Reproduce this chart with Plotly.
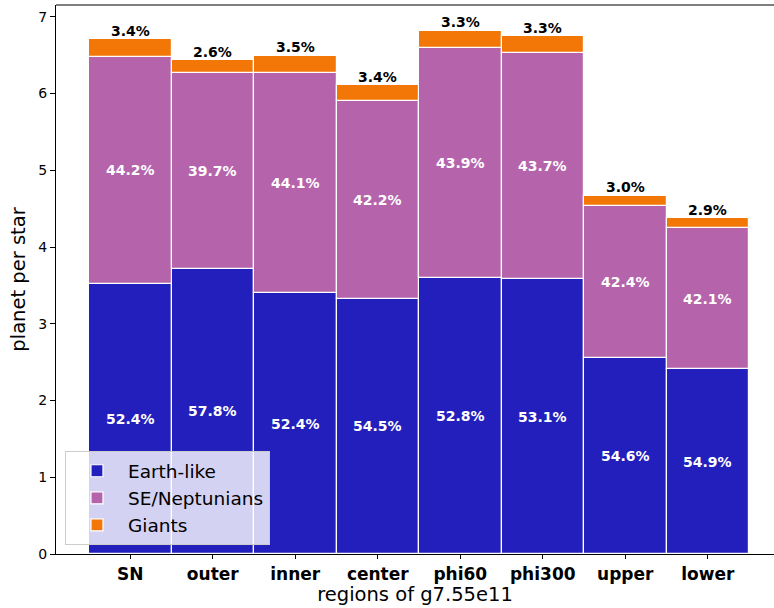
import plotly.graph_objects as go

# Planet occurrence per star across regions of g7.55e11
regions = ["SN", "outer", "inner", "center", "phi60", "phi300", "upper", "lower"]
total_per_star = [6.71, 6.43, 6.49, 6.10, 6.82, 6.74, 4.67, 4.38]
earth_pct = [52.4, 57.8, 52.4, 54.5, 52.8, 53.1, 54.6, 54.9]
neptune_pct = [44.2, 39.7, 44.1, 42.2, 43.9, 43.7, 42.4, 42.1]
giant_pct = [3.4, 2.6, 3.5, 3.4, 3.3, 3.3, 3.0, 2.9]

series_names = ["Earth-like", "SE/Neptunians", "Giants"]
series_colors = ["#231fbd", "#b564ac", "#f27706"]

FONT = "DejaVu Sans"

fig = go.Figure()
x_idx = list(range(len(regions)))
bases = [0.0] * len(regions)
annotations = []
for name, color, pcts in zip(series_names, series_colors,
                             [earth_pct, neptune_pct, giant_pct]):
    heights = [t * p / 100.0 for t, p in zip(total_per_star, pcts)]
    fig.add_trace(go.Bar(
        x=x_idx, y=heights, base=bases, name=name, width=1.0,
        marker=dict(color=color, line=dict(color="white", width=1.2)),
        hoverinfo="skip",
    ))
    for i, (b, h, p) in enumerate(zip(bases, heights, pcts)):
        if name == "Giants":
            annotations.append(dict(
                x=i, y=b + h, xref="x", yref="y", text=f"<b>{p:.1f}%</b>",
                showarrow=False, yanchor="bottom", yshift=-1.5,
                font=dict(family=FONT, size=14, color="black")))
        else:
            annotations.append(dict(
                x=i, y=b + h / 2, xref="x", yref="y", text=f"<b>{p:.1f}%</b>",
                showarrow=False, yanchor="middle",
                font=dict(family=FONT, size=14, color="white")))
    bases = [b + h for b, h in zip(bases, heights)]

fig.update_layout(
    width=774, height=608,
    margin=dict(l=56, r=0, t=5, b=54),
    plot_bgcolor="white", paper_bgcolor="white",
    barmode="overlay", bargap=0,
    font=dict(family=FONT, color="black"),
    annotations=annotations,
    showlegend=True,
    legend=dict(
        x=0.0125, y=0.016, xanchor="left", yanchor="bottom",
        bgcolor="rgba(255,255,255,0.8)", bordercolor="#cccccc", borderwidth=1,
        font=dict(family=FONT, size=18.5, color="black"),
        traceorder="normal", itemwidth=52, tracegroupgap=0,
    ),
    shapes=[dict(type="line", xref="paper", yref="paper", x0=0, x1=1, y0=1, y1=1,
                 line=dict(color="black", width=1.2))],
)
fig.update_xaxes(
    range=[-0.9, 7.803], tickmode="array", tickvals=x_idx, ticktext=regions,
    tickfont=dict(family=FONT, size=17, weight="bold"),
    ticks="outside", ticklen=4, tickcolor="black",
    showline=True, linecolor="black", linewidth=1.2, showgrid=False, zeroline=False,
    title=dict(text="regions of g7.55e11", font=dict(family=FONT, size=19.5), standoff=4),
)
fig.update_yaxes(
    range=[0, 7.154], tickmode="array", tickvals=list(range(8)),
    tickfont=dict(family=FONT, size=14),
    ticks="outside", ticklen=5, tickcolor="black",
    showline=True, linecolor="black", linewidth=1.2, showgrid=False, zeroline=False,
    title=dict(text="planet per star", font=dict(family=FONT, size=19.5), standoff=7),
)

fig.write_html("out.html", config={"displayModeBar": False})
